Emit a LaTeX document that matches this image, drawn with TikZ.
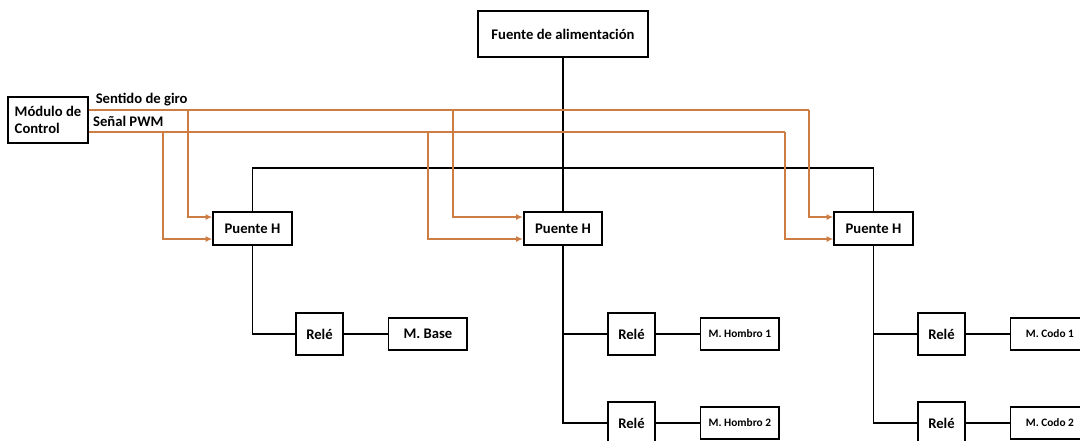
\documentclass[tikz,border=0pt]{standalone}
\usepackage{fontspec}
\setmainfont{Carlito}
\usepackage{xcolor}
\usepackage{tikz}
\usetikzlibrary{arrows.meta, positioning}

\definecolor{sigorange}{RGB}{205,125,68}

\begin{document}
\begin{tikzpicture}[
    x=0.75pt, y=-0.75pt,
    box/.style={rectangle, draw=black, line width=1.3pt, fill=white,
                font=\bfseries\fontsize{11}{13}\selectfont, inner sep=2pt},
    hbox/.style={box, minimum width=59pt, minimum height=24.5pt},
    relbox/.style={box, minimum width=35pt, minimum height=31.5pt},
    motor/.style={box, minimum width=59pt, minimum height=24.5pt},
    small/.style={font=\bfseries\fontsize{8.5}{10}\selectfont},
    wire/.style={line width=1.3pt},
    sigline/.style={line width=1.3pt, draw=sigorange},
    sig/.style={sigline, -{Latex[length=5pt,width=4.5pt]}},
    lbl/.style={font=\bfseries\fontsize{11}{13}\selectfont, inner sep=0pt}
]
    \useasboundingbox (0,0) rectangle (1080,441);
    \clip (0,0) rectangle (1080,441);

    % bloques principales
    \node[box, minimum width=127.5pt, minimum height=34.5pt] (fuente) at (563,34) {Fuente de alimentación};
    \node[box, align=left, minimum width=60pt, minimum height=34.5pt] (mod) at (48,120) {Módulo de\\Control};
    \node[hbox] (ph1) at (252.5,228.5) {Puente H};
    \node[hbox] (ph2) at (563,228.5) {Puente H};
    \node[hbox] (ph3) at (873.5,228.5) {Puente H};

    % reles y motores
    \node[relbox] (r1) at (319.5,334) {Relé};
    \node[motor, right=33pt of r1] (mb) {M. Base};
    \node[relbox] (r2a) at (631.5,334) {Relé};
    \node[motor, small, right=33pt of r2a] (mh1) {M. Hombro 1};
    \node[relbox] (r2b) at (631.5,423) {Relé};
    \node[motor, small, right=33pt of r2b] (mh2) {M. Hombro 2};
    \node[relbox] (r3a) at (941.5,334) {Relé};
    \node[motor, small, right=33pt of r3a] (mc1) {M. Codo 1};
    \node[relbox] (r3b) at (941.5,423) {Relé};
    \node[motor, small, right=33pt of r3b] (mc2) {M. Codo 2};

    % alimentacion
    \coordinate (bus) at (563,168);
    \draw[wire] (fuente) -- (ph2);
    \draw[wire] (ph1.north) |- (bus) -| (ph3.north);
    \draw[wire] (ph1.south) |- (r1.west);
    \draw[wire] (ph2.south) |- (r2a.west);
    \draw[wire] (ph2.south) |- (r2b.west);
    \draw[wire] (ph3.south) |- (r3a.west);
    \draw[wire] (ph3.south) |- (r3b.west);
    \draw[wire] (r1) -- (mb);
    \draw[wire] (r2a) -- (mh1);
    \draw[wire] (r2b) -- (mh2);
    \draw[wire] (r3a) -- (mc1);
    \draw[wire] (r3b) -- (mc2);

    % senales de control
    \coordinate (sg) at ([yshift=7.5pt]mod.east);
    \coordinate (pw) at ([yshift=-9pt]mod.east);
    \node[lbl, anchor=base west] (lsg) at ([xshift=5pt, yshift=4.5pt]sg) {Sentido de giro};
    \node[lbl, anchor=base west] (lpw) at ([xshift=3pt, yshift=3.8pt]pw) {Señal PWM};
    \foreach \h/\ds/\dp in {ph1/18/37, ph2/52.5/71, ph3/18/36} {
        \coordinate (\h s) at ([xshift=-\ds pt, yshift=8.6pt]\h.west);
        \coordinate (\h p) at ([xshift=-\dp pt, yshift=-7.9pt]\h.west);
    }
    \draw[sigline] (sg) -- (sg -| ph3s);
    \draw[sigline] (pw) -- (pw -| ph3p);
    \foreach \h in {ph1, ph2, ph3} {
        \draw[sig] (sg -| \h s) -- (\h s) -- ([yshift=8.6pt]\h.west);
        \draw[sig] (pw -| \h p) -- (\h p) -- ([yshift=-7.9pt]\h.west);
    }
\end{tikzpicture}
\end{document}
